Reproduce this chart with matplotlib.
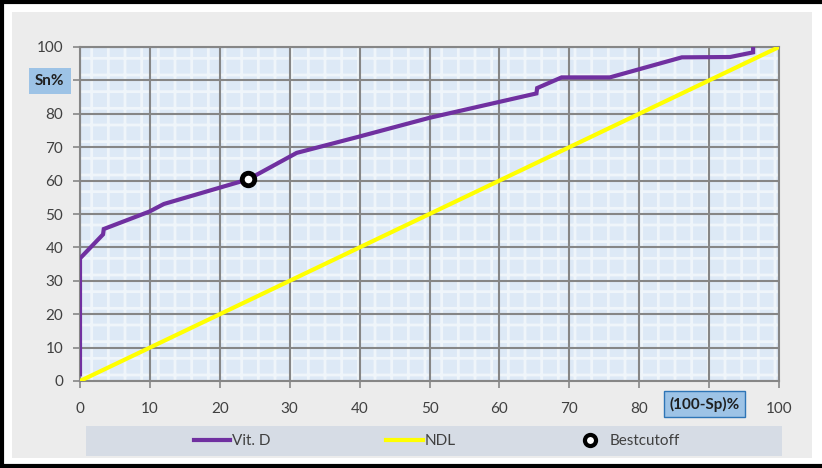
import matplotlib.pyplot as plt
from matplotlib.patches import Rectangle
from matplotlib.lines import Line2D

# ROC curve for Vit. D
fpr = [0, 0, 3.3, 3.4, 9.9, 12, 24.1, 31, 39.8, 50, 65.3, 65.4, 68.9, 75.8, 86.1, 93, 96.3, 96.3]
sens = [2, 36.7, 43.9, 45.5, 50.7, 53, 60.4, 68.3, 73.1, 78.8, 86.1, 87.7, 90.9, 90.9, 96.9, 97, 98.4, 100]

# no-discrimination line
ndl_x = [0, 100]
ndl_y = [0, 100]

best_x = [24.1]
best_y = [60.4]

x_ticks = list(range(0, 101, 10))
y_ticks = list(range(0, 101, 10))
x_labels = ['0', '10', '20', '30', '40', '50', '60', '70', '80', '', '100']
y_labels = ['0', '10', '20', '30', '40', '50', '60', '70', '80', '', '100']

W, H = 822, 468
plt.rcParams['font.family'] = ['Lato', 'DejaVu Sans']
plt.rcParams['hatch.linewidth'] = 2.0
fig = plt.figure(figsize=(W / 100, H / 100), dpi=100)

# outer frame and chart background
fig.patches.append(Rectangle((0, 0), 1, 1, transform=fig.transFigure,
                             facecolor='white', edgecolor='none', zorder=-3))
fig.patches.append(Rectangle((12 / W, 1 - 458 / H), 800 / W, 446 / H,
                             transform=fig.transFigure, facecolor='#ececec',
                             edgecolor='none', zorder=-2))
fig.lines.append(Line2D([1.5 / W, 1.5 / W], [0, 1], transform=fig.transFigure,
                        color='black', lw=3))
fig.lines.append(Line2D([0, 1], [1 - 1.5 / H, 1 - 1.5 / H], transform=fig.transFigure,
                        color='black', lw=3))
fig.lines.append(Line2D([0, 1], [1 - 466 / H, 1 - 466 / H], transform=fig.transFigure,
                        color='black', lw=3))

ax = fig.add_axes([80 / W, 1 - 381 / H, 699 / W, 334 / H])
ax.set_facecolor('#dde9f6')
ax.add_patch(Rectangle((0, 0), 100, 100, facecolor='none', edgecolor='white',
                       hatch='+', lw=0, alpha=0.55, zorder=0))

ax.plot(ndl_x, ndl_y, color='#ffff00', lw=3, solid_capstyle='butt', zorder=3, label='NDL')
ax.plot(fpr, sens, color='#7030a0', lw=3, solid_joinstyle='miter', zorder=4, label='Vit. D')
ax.plot(best_x, best_y, 'o', ms=9, mfc='white', mec='black', mew=3.5, zorder=5,
        label='Bestcutoff')

ax.set_xlim(0, 100)
ax.set_ylim(0, 100)
ax.set_xticks(x_ticks)
ax.set_yticks(y_ticks)
ax.set_xticklabels(x_labels)
ax.set_yticklabels(y_labels)
ax.grid(True, color='#868686', lw=1.5, zorder=1)
ax.set_axisbelow(True)
for s in ax.spines.values():
    s.set_color('#868686')
    s.set_linewidth(1.5)
ax.tick_params(axis='both', length=5, width=1.2, color='#868686',
               labelsize=11, labelcolor='#404040')
ax.tick_params(axis='x', pad=10)
ax.tick_params(axis='y', pad=7)

# axis titles sit in place of the 90 tick labels
ax.text(-2.2, 89.8, 'Sn%', ha='right', va='center', fontsize=11, fontweight='bold',
        color='#1f1f1f',
        bbox=dict(boxstyle='square,pad=0.4', facecolor='#9dc3e6', edgecolor='none'))
ax.text(89.4, -6.9, '(100-Sp)%', ha='center', va='center', fontsize=11,
        fontweight='bold', color='#1f1f1f',
        bbox=dict(boxstyle='square,pad=0.35', facecolor='#9dc3e6', edgecolor='#2e75b6',
                  lw=1))

# legend band
fig.patches.append(Rectangle((86 / W, 1 - 456 / H), 696 / W, 30 / H,
                             transform=fig.transFigure, facecolor='#d6dce5',
                             edgecolor='none', zorder=-1))
handles = [Line2D([], [], color='#7030a0', lw=3),
           Line2D([], [], color='#ffff00', lw=3),
           Line2D([], [], ls='none', marker='o', ms=8, mfc='white', mec='black', mew=3)]
fig.legend(handles, ['Vit. D', 'NDL', 'Bestcutoff'], loc='center',
           bbox_to_anchor=(437 / W, 1 - 441 / H), ncol=3, frameon=False,
           fontsize=11, columnspacing=7.6, handlelength=2.4, handletextpad=0.1,
           labelcolor='#404040')

fig.savefig('out.png', dpi=100)
